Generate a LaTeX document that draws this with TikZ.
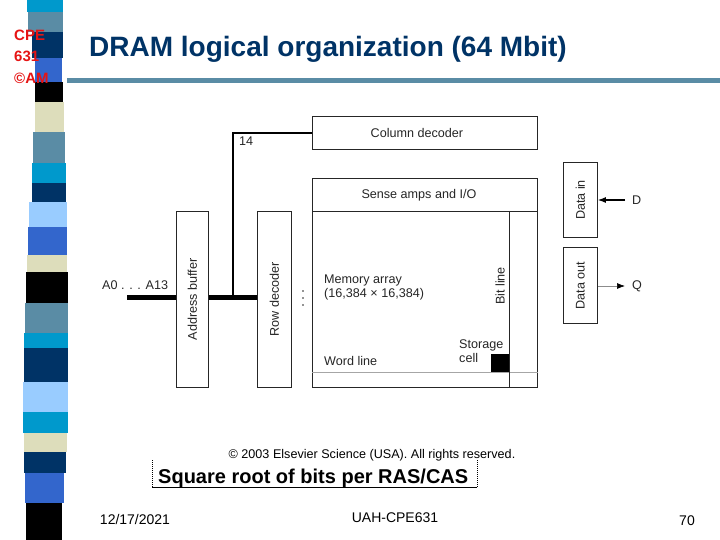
\documentclass[tikz,border=0pt]{standalone}
\usepackage{fontspec}
\setmainfont{Liberation Sans}
\usetikzlibrary{arrows.meta, positioning, calc}
\definecolor{Cnavy}{RGB}{0,51,102}
\definecolor{Csteel}{RGB}{90,140,165}
\definecolor{Ccyan}{RGB}{0,153,204}
\definecolor{Croyal}{RGB}{51,102,204}
\definecolor{Cbeige}{RGB}{221,221,187}
\definecolor{Clight}{RGB}{153,204,255}
\definecolor{Cred}{RGB}{230,20,20}
\colorlet{Cline}{black!85}
\tikzset{
  blockbox/.style={draw=Cline, line width=0.9pt, inner sep=0pt, fill=white},
  txt/.style={font=\fontsize{12.6}{14}\selectfont, text=black!85, inner sep=0pt},
  redtag/.style={font=\bfseries\fontsize{15}{18}\selectfont, text=Cred, inner sep=0pt},
  titletxt/.style={font=\bfseries\fontsize{28}{32}\selectfont, text=Cnavy, inner sep=0pt},
  captxt/.style={font=\bfseries\fontsize{20}{24}\selectfont, text=black, inner sep=0pt},
  foot/.style={font=\fontsize{14}{16}\selectfont, text=black, inner sep=0pt},
  bus/.style={line width=5pt, draw=black},
  addrline/.style={line width=1.6pt, draw=black},
  bitline/.style={line width=0.9pt, draw=Cline},
  wordline/.style={line width=1pt, draw=black!35},
  inarr/.style={-{Latex[length=8pt, width=6pt]}, line width=1.2pt},
  outarr/.style={-{Latex[length=8pt, width=6pt, color=black]}, line width=0.7pt, draw=black!45},
  capframe/.style={line width=1pt, dash pattern=on 1pt off 1pt},
}
\begin{document}
\begin{tikzpicture}[x=1pt, y=-1pt]
\useasboundingbox (0,0) rectangle (720,540);

%%==========================================================================
%% SLIDE FRAME --- stripes, tag, title
%%==========================================================================
\foreach \ya/\yb/\xa/\xb/\col in {
    0/12/27/63/Ccyan, 12/32/28/63/Csteel, 32/58/32/63/Cnavy,
    58/82/35/62/Croyal, 82/102/35/63/black, 102/132/35/64/Cbeige,
    132/163/33/65/Csteel, 163/183/32/66/Ccyan, 183/202/32/66/Cnavy,
    202/227/29/67/Clight, 227/255/28/67/Croyal, 255/272/27/67/Cbeige,
    272/303/26/68/black, 303/333/25/68/Csteel, 333/348/24/68/Ccyan,
    348/382/24/68/Cnavy, 382/412/23/68/Clight, 412/433/23/68/Ccyan,
    433/452/24/67/Cbeige, 452/473/24/66/Cnavy, 473/503/25/64/Croyal,
    503/540/26/62/black}
  \fill[\col] (\xa,\ya) rectangle (\xb,\yb);

\node[redtag, anchor=base west] (tagcpe) at (14,41) {CPE};
\node[redtag, anchor=base west] (tagnum) at (14,62) {631};
\node[redtag, anchor=base west] (tagam)  at (14,84) {©AM};

\node[titletxt, anchor=base west] (title) at (89,57) {DRAM logical organization (64 Mbit)};
\fill[Csteel] (67,78) rectangle (720,83);

%%==========================================================================
%% MEMORY ARRAY AND DECODERS
%%==========================================================================
\node[blockbox, minimum width=225pt, minimum height=33pt, anchor=north west,
  label={[txt, xshift=-8pt]center:Column decoder}] (coldec) at (312,116) {};
\node[blockbox, minimum width=225pt, minimum height=33pt, anchor=north west,
  label={[txt, xshift=-6pt]center:Sense amps and I/O}] (sense) at (312,178) {};
\node[blockbox, minimum width=225pt, minimum height=176pt, anchor=north west] (array) at (312,211) {};

\node[fill=black, inner sep=0pt, minimum width=18pt, minimum height=18pt,
  anchor=north west] (cell) at (491,354) {};
\draw[wordline] (array.west |- cell.south) -- (array.east |- cell.south);
\draw[bitline] (cell.east |- array.north) -- (cell.east |- array.south);

\node[txt, anchor=base west] (memtxt)   at (324,283) {Memory array};
\node[txt, anchor=base west] (memdim)   at (324,297) {(16,384 × 16,384)};
\node[txt, anchor=base west] (wordtxt)  at (324,365) {Word line};
\node[txt, anchor=base west] (storetxt) at (459,348) {Storage};
\node[txt, anchor=base west] (celltxt)  at (459,362) {cell};
\node[txt, rotate=90] (bittxt) at (500,286) {Bit line};

\foreach \yy in {291,298,305}
  \fill[Cline] (303,\yy) circle (0.9pt);

\node[blockbox, minimum width=32pt, minimum height=176pt, anchor=north west,
  label={[txt, rotate=90]center:Address buffer}] (addrbuf) at (176,211) {};
\node[blockbox, minimum width=34pt, minimum height=176pt, anchor=north west,
  label={[txt, rotate=90]center:Row decoder}] (rowdec) at (257,211) {};

%%==========================================================================
%% ADDRESS BUS
%%==========================================================================
\node[txt, anchor=base west] (addrtxt) at (102,289) {A0 . . . A13};
\coordinate (busin) at (127,297);
\coordinate (tap) at (233,297);
\draw[bus] (busin) -- (busin -| addrbuf.west);
\draw[bus] (addrbuf.east |- busin) -- (rowdec.west |- busin);
\draw[addrline] (tap) |- (coldec.west);
\node[txt, anchor=base west] (bits14) at (239,146) {14};

%%==========================================================================
%% DATA IN / OUT
%%==========================================================================
\node[blockbox, minimum width=34pt, minimum height=75pt, anchor=north west,
  label={[txt, rotate=90]center:Data in}] (datain) at (563,162) {};
\node[blockbox, minimum width=34pt, minimum height=76pt, anchor=north west,
  label={[txt, rotate=90]center:Data out}] (dataout) at (563,247) {};

\node[txt, anchor=west] (dlab) at (632,200) {D};
\node[txt, anchor=west] (qlab) at (632,286) {Q};
\draw[inarr] ([xshift=-7pt]dlab.west) -- (datain.east |- dlab.west);
\draw[outarr] (dataout.east |- qlab.west) -- ([xshift=-7pt]qlab.west);

%%==========================================================================
%% CAPTION AND FOOTER
%%==========================================================================
\node[txt, text=black, anchor=base] (copy) at (372,458)
  {© 2003 Elsevier Science (USA). All rights reserved.};
\node[captxt, anchor=base west] (sqrtcap) at (158,483) {Square root of bits per RAS/CAS};
\coordinate (capnw) at (152,460);
\coordinate (capse) at (477,487);
\draw[capframe] (capnw) -- (capnw |- capse);
\draw[capframe] (capse |- capnw) -- (capse);
\draw[line width=1pt] (capnw |- capse) -- (capse);

\node[foot, anchor=base] (date)  at (135,524) {12/17/2021};
\node[foot, anchor=base] (course) at (395,522) {UAH-CPE631};
\node[foot, anchor=base] (page)  at (687,525) {70};

\end{tikzpicture}
\end{document}
